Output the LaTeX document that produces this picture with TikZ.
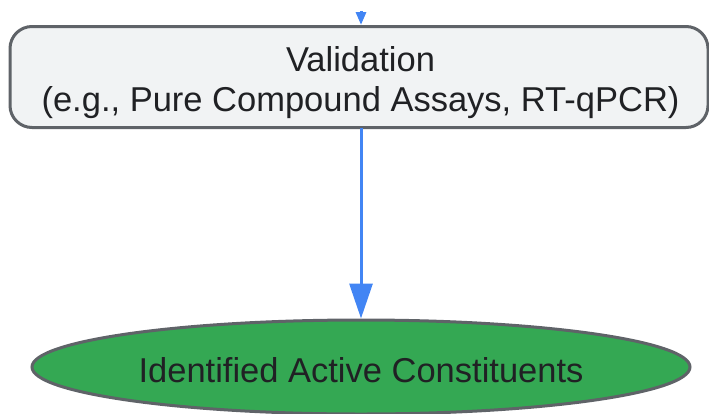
\documentclass[tikz,border=0pt]{standalone}
\usepackage{fontspec}
\setmainfont{Liberation Sans}
\usetikzlibrary{arrows.meta,shapes.geometric}
\definecolor{bordergray}{HTML}{5F6368}
\definecolor{boxfill}{HTML}{F1F3F4}
\definecolor{arrowblue}{HTML}{4285F4}
\definecolor{okgreen}{HTML}{34A853}
\definecolor{txt}{HTML}{202124}
\tikzset{
  procbox/.style={draw=bordergray, line width=3pt, fill=boxfill, rounded corners=22pt,
    minimum width=698pt, minimum height=101pt, inner sep=0pt},
  boxtext/.style={align=center, text=txt, inner sep=0pt, font=\fontsize{34.5}{40}\selectfont},
  endell/.style={draw=bordergray, line width=3pt, fill=okgreen, ellipse,
    minimum width=658pt, minimum height=94pt, inner sep=0pt},
  flow/.style={draw=arrowblue, line width=3pt, -{Triangle[length=35pt,width=23pt]}},
  flowsmall/.style={draw=arrowblue, line width=3pt, -{Triangle[length=13pt,width=10pt]}}
}
\begin{document}
\begin{tikzpicture}[x=1pt,y=-1pt]
\useasboundingbox (0,0) rectangle (709,413);
\begin{scope}
\clip (0,0) rectangle (709,413);
\node[procbox] (val) at (359,77) {};
\node[boxtext] (valtext) at (360.5,83) {Validation\\(e.g., Pure Compound Assays, RT-qPCR)};
\node[endell] (iac) at (361,367) {};
\node[boxtext] (iactext) at (361,370) {Identified Active Constituents};
\coordinate (topin) at (361,11);
\coordinate (valtop) at (361,25);
\coordinate (valbot) at (361,128);
\draw[flowsmall] (topin) -- (valtop);
\draw[flow] (valbot) -- (iac.north);
\end{scope}
\end{tikzpicture}
\end{document}
